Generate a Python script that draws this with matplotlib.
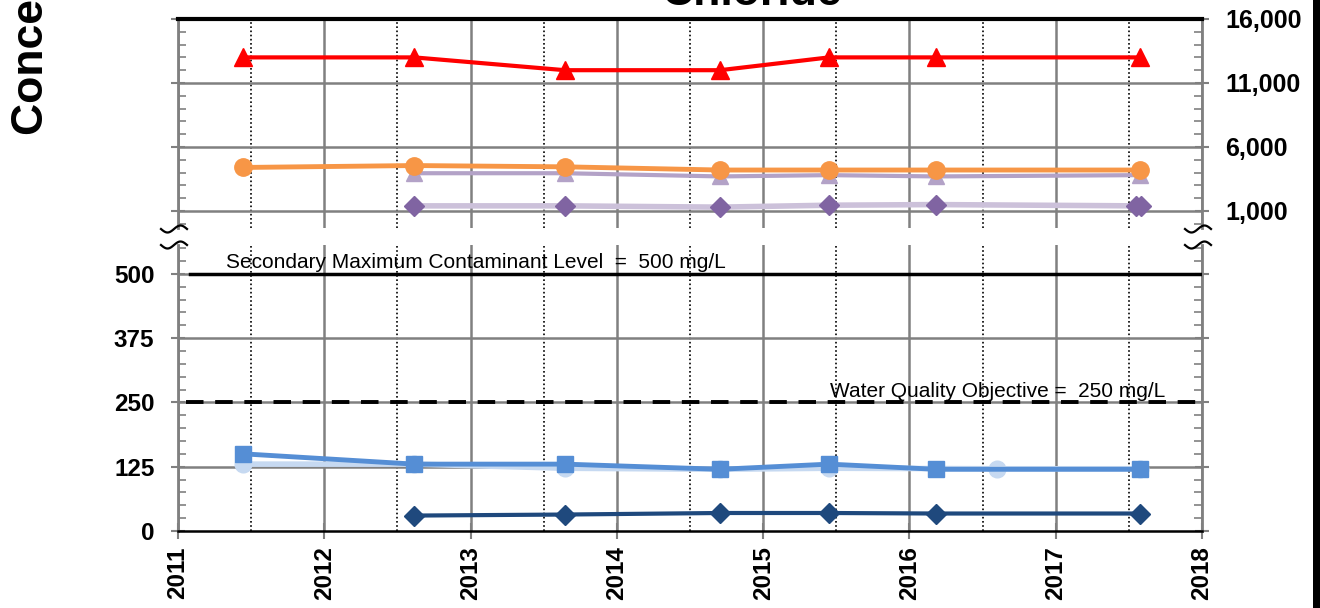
import numpy as np
import matplotlib
matplotlib.use("Agg")
import matplotlib.pyplot as plt
from matplotlib.lines import Line2D
from matplotlib.patches import Rectangle
from matplotlib.ticker import MultipleLocator, FixedLocator, FuncFormatter

plt.rcParams['font.family'] = ['Liberation Sans', 'DejaVu Sans']

# ---------------- data (decimal years) ----------------
red_x = [2011.446, 2012.615, 2013.645, 2014.705, 2015.45, 2016.18, 2017.575]
red_y = [13000, 13000, 12000, 12000, 13000, 13000, 13000]

orange_x = [2011.446, 2012.615, 2013.645, 2014.705, 2015.45, 2016.18, 2017.575]
orange_y = [4400, 4550, 4450, 4200, 4200, 4200, 4200]

ltpurple_x = [2012.615, 2013.645, 2014.705, 2015.45, 2016.18, 2017.575]
ltpurple_y = [3950, 3950, 3700, 3800, 3700, 3800]

purple_x = [2012.615, 2013.645, 2014.705, 2015.45, 2016.18, 2017.546, 2017.58]
purple_y = [1400, 1400, 1300, 1450, 1500, 1400, 1400]

ltblue_x = [2011.446, 2012.615, 2013.645, 2014.705, 2015.45, 2016.6, 2017.575]
ltblue_y = [130, 130, 122, 120, 122, 121, 121]

blue_x = [2011.446, 2012.615, 2013.645, 2014.705, 2015.45, 2016.18, 2017.575]
blue_y = [150, 130, 130, 120, 130, 120, 120]

navy_x = [2012.615, 2013.645, 2014.705, 2015.45, 2016.18, 2017.575]
navy_y = [30, 32, 35, 35, 34, 34]

years = [2011, 2012, 2013, 2014, 2015, 2016, 2017, 2018]
half_years = [2011.5, 2012.5, 2013.5, 2014.5, 2015.5, 2016.5, 2017.5]
top_ticks = [1000, 6000, 11000, 16000]
bot_ticks = [0, 125, 250, 375, 500]
smcl = 500
wqo = 250
smcl_label = "Secondary Maximum Contaminant Level  =  500 mg/L"
wqo_label = "Water Quality Objective =  250 mg/L"
title = "Chloride"
ylabel = "Concentration (mg/L)"

# ---------------- figure ----------------
W, H = 1320, 608
fig = plt.figure(figsize=(W / 100, H / 100), dpi=100)

def fx(px):
    return px / W

def fy(py):
    return 1 - py / H

L, R = 178, 1202
axT = fig.add_axes([fx(L), fy(228), fx(R - L), fy(19) - fy(228)])
axB = fig.add_axes([fx(L), fy(531), fx(R - L), fy(245) - fy(531)])

GRAY = '#808080'
for ax in (axT, axB):
    ax.set_xlim(2011, 2018)
    ax.set_facecolor('white')
    for x in years:
        ax.axvline(x, color=GRAY, lw=1.8, zorder=1)
    for x in half_years:
        ax.axvline(x, color='black', lw=1.2, ls=(0, (1, 1.5)), zorder=1)
    ax.spines['left'].set_color(GRAY)
    ax.spines['right'].set_color(GRAY)
    ax.spines['left'].set_linewidth(2)
    ax.spines['right'].set_linewidth(2)
    ax.xaxis.set_major_locator(FixedLocator(years))

# top axis
axT.set_ylim(-330, 16000)
axT.spines['bottom'].set_visible(False)
axT.spines['top'].set_color('black')
axT.spines['top'].set_linewidth(3)
for v in top_ticks:
    axT.axhline(v, color=GRAY, lw=1.8, zorder=1)
axT.yaxis.set_major_locator(FixedLocator(top_ticks))
axT.yaxis.set_minor_locator(MultipleLocator(1000))
axT.yaxis.set_major_formatter(FuncFormatter(lambda v, p: f"{int(v):,}"))
axT.tick_params(axis='y', which='major', left=True, right=True, labelleft=False, labelright=True,
                direction='inout', length=10, width=1.5, color=GRAY, pad=12,
                labelsize=18)
axT.tick_params(axis='y', which='minor', left=True, right=True, direction='in', length=6, width=1.2, color=GRAY)
axT.tick_params(axis='x', which='both', bottom=False, top=False, labelbottom=False)
for lab in axT.get_yticklabels():
    lab.set_fontweight('bold')

axT.plot(red_x, red_y, color='#FF0000', lw=3, marker='^', ms=13, zorder=5, clip_on=False)
axT.plot(ltpurple_x, ltpurple_y, color='#B3A2C7', lw=3, marker='^', ms=12, zorder=4, clip_on=False)
axT.plot(orange_x, orange_y, color='#F79646', lw=3.5, marker='o', ms=12.5, zorder=5, clip_on=False)
axT.plot(purple_x, purple_y, color='#CCC1DA', lw=4, marker='D', ms=10,
         markerfacecolor='#8064A2', markeredgecolor='#8064A2', zorder=5, clip_on=False)

# bottom axis
axB.set_ylim(0, 556)
axB.spines['top'].set_visible(False)
axB.spines['bottom'].set_color('black')
axB.spines['bottom'].set_linewidth(1.8)
for v in bot_ticks[1:]:
    axB.axhline(v, color=GRAY, lw=1.8, zorder=1)
axB.yaxis.set_major_locator(FixedLocator(bot_ticks))
axB.yaxis.set_minor_locator(MultipleLocator(25))
axB.tick_params(axis='y', which='major', left=True, right=True, labelleft=True, labelright=False,
                direction='inout', length=10, width=1.5, color=GRAY, pad=12, labelsize=17.5)
axB.tick_params(axis='y', which='minor', left=True, right=True, direction='in', length=6, width=1.2, color=GRAY)
axB.tick_params(axis='x', which='major', direction='inout', length=12, width=1.5, color=GRAY,
                labelsize=17.5, labelrotation=90, pad=5)
axB.xaxis.set_major_formatter(FuncFormatter(lambda v, p: f"{int(round(v))}"))
for lab in axB.get_yticklabels() + axB.get_xticklabels():
    lab.set_fontweight('bold')

axB.plot([2011.08, 2018], [smcl, smcl], color='black', lw=2.5, zorder=3)
axB.plot([2011.055, 2017.965], [wqo, wqo], color='black', lw=2.8, ls=(0, (4.5, 3)), zorder=3)
axB.text(2011.33, 511, smcl_label, fontsize=15, ha='left', va='baseline', zorder=6)
axB.text(2015.457, 261, wqo_label, fontsize=15, ha='left', va='baseline', zorder=6)

axB.plot(ltblue_x, ltblue_y, color='#C6D9F1', lw=4, marker='o', ms=12, zorder=4, clip_on=False)
axB.plot(blue_x, blue_y, color='#558ED5', lw=3.5, marker='s', ms=12, zorder=5, clip_on=False)
axB.plot(navy_x, navy_y, color='#1F497D', lw=3, marker='D', ms=10, zorder=5, clip_on=False)

# break marks
def brace(xc, yc):
    t = np.linspace(-1, 1, 40)
    xs = xc + t * 13
    ys = yc - 3.5 * np.sin(np.pi * t)
    fig.add_artist(Line2D(fx(xs), fy(ys), color='black', lw=1.6))

for xc in (L - 4, R - 4):
    brace(xc, 229)
    brace(xc, 245)

# titles / labels (cut off as in the original)
fig.text(fx(751), fy(5), title, ha='center', va='baseline', fontsize=32, fontweight='bold')
fig.text(fx(43), fy(135), ylabel, rotation=90, rotation_mode='anchor', ha='left', va='baseline',
         fontsize=32, fontweight='bold')

# right black border
fig.add_artist(Rectangle((fx(1313), 0), fx(7), 1, transform=fig.transFigure,
                         facecolor='black', edgecolor='none'))

fig.savefig('out.png', dpi=100)
